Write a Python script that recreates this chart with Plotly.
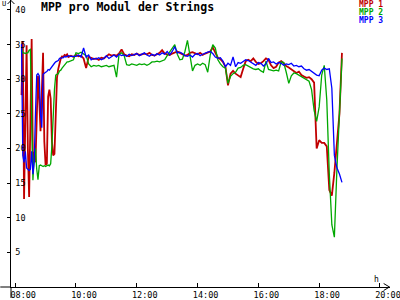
import pandas as pd
import plotly.graph_objects as go

# ---- data -------------------------------------------------------------
# sampling grid: 2.5-min samples in the morning, then 5-min samples
times_early = pd.date_range("2024-01-01 08:12:30", "2024-01-01 09:45:00", freq="150s")
times_late = pd.date_range("2024-01-01 09:50:00", "2024-01-01 18:45:00", freq="5min")

mpp1_early = [27.7, 35.5, 12.7, 22.0, 34.9, 20.0, 13.0, 23.8, 35.8, 17.5,
              19.5, 18.0, 24.0, 30.5, 27.0, 22.5, 28.0, 33.8, 21.0, 17.6,
              17.8, 27.5, 28.5, 27.2, 21.0, 19.0, 19.2, 25.0, 30.2, 31.5,
              32.5, 33.0, 33.3, 33.2, 33.5, 33.4, 33.6, 33.2]
mpp1_late = [33.4, 33.2, 33.5, 33.3, 33.4, 33.0, 31.6, 33.2, 33.1, 32.9,
             33.0, 32.8, 33.1, 33.0, 33.3, 33.6, 33.4, 33.5, 33.4, 33.7,
             34.3, 33.6, 33.4, 33.3, 33.6, 33.5, 33.7, 33.5, 33.6, 33.7,
             33.6, 33.8, 33.5, 33.4, 33.6, 33.8, 34.2, 33.7, 33.6, 33.5,
             33.7, 33.9, 34.0, 33.8, 33.6, 33.4, 33.5, 33.8, 33.9, 33.7,
             33.6, 33.8, 33.5, 33.7, 33.8, 34.0, 34.6, 33.8, 33.1, 32.9,
             32.5, 31.8, 29.1, 30.8, 31.2, 30.8, 30.5, 30.3, 31.5, 32.6,
             32.8, 32.6, 33.0, 32.5, 32.2, 32.3, 32.6, 33.0, 32.8, 32.0,
             31.6, 31.8, 32.4, 32.6, 32.3, 31.9, 31.7, 31.4, 31.2, 30.9,
             31.1, 30.6, 30.4, 30.2, 30.3, 30.0, 29.5, 20.0, 21.2, 20.8,
             20.8, 20.3, 14.0, 13.2, 16.5, 20.5, 25.0, 33.8]

mpp2_early = [34.5, 33.8, 33.8, 33.7, 33.8, 33.8, 34.2, 34.3, 24.5, 15.4,
              18.8, 20.0, 17.0, 15.5, 17.5, 17.6, 17.5, 17.4, 17.5, 17.4,
              17.5, 17.6, 17.5, 17.8, 20.5, 25.0, 28.5, 30.6, 30.7, 30.8,
              31.2, 31.3, 31.6, 31.8, 32.0, 32.3, 32.5, 32.5]
mpp2_late = [32.6, 32.8, 33.8, 33.7, 33.9, 33.6, 33.4, 32.2, 31.8, 32.0,
             31.9, 32.0, 31.8, 31.9, 32.0, 31.8, 31.9, 32.0, 30.3, 33.6,
             33.8, 33.4, 32.1, 32.0, 32.2, 32.1, 32.0, 32.2, 32.1, 32.2,
             32.0, 32.2, 32.5, 32.5, 32.6, 32.5, 32.6, 32.8, 33.4, 34.0,
             34.6, 35.0, 33.6, 32.8, 32.9, 34.0, 35.6, 33.5, 31.2, 32.0,
             32.2, 32.0, 32.3, 32.1, 31.0, 33.5, 35.0, 34.5, 32.8, 32.2,
             31.8, 31.6, 29.4, 30.4, 30.8, 31.0, 31.6, 31.7, 32.0, 32.1,
             31.9, 31.6, 31.5, 31.4, 31.5, 31.2, 31.0, 32.6, 31.4, 31.3,
             31.2, 31.3, 31.2, 32.5, 32.4, 31.0, 29.4, 30.5, 30.9, 30.8,
             30.6, 30.4, 30.2, 30.0, 29.7, 28.5, 25.5, 23.9, 26.0, 30.6,
             32.0, 27.0, 16.3, 9.0, 7.2, 17.0, 25.8, 33.0]

mpp3_early = [35.1, 19.0, 18.0, 19.6, 17.2, 17.0, 16.8, 17.0, 19.6, 16.3,
              18.0, 25.0, 30.6, 30.8, 30.5, 25.0, 23.0, 30.7, 30.9, 31.0,
              31.1, 31.4, 31.3, 31.6, 31.9, 32.0, 32.3, 32.5, 32.6, 32.7,
              33.0, 33.0, 33.1, 33.1, 33.3, 33.2, 33.3, 33.4]
mpp3_late = [33.3, 33.3, 33.3, 33.5, 33.2, 34.5, 33.2, 33.5, 32.8, 33.0,
             32.9, 33.1, 32.8, 33.0, 33.4, 33.0, 33.3, 33.5, 33.2, 33.6,
             33.4, 33.5, 33.3, 33.6, 33.4, 33.5, 33.7, 33.4, 33.6, 33.8,
             33.5, 33.3, 33.6, 33.4, 33.7, 33.5, 33.8, 33.6, 34.0, 33.5,
             34.0, 34.7, 33.8, 33.9, 33.7, 33.4, 33.3, 33.5, 33.2, 33.6,
             33.7, 33.4, 33.6, 33.8, 33.9, 34.0, 33.7, 33.2, 33.0, 33.1,
             32.6, 31.8, 32.3, 32.0, 33.2, 31.8, 32.4, 32.3, 32.6, 32.8,
             32.7, 32.5, 32.2, 32.0, 32.4, 32.3, 31.9, 32.2, 33.0, 32.4,
             32.5, 32.2, 32.4, 32.3, 32.0, 32.2, 32.1, 32.3, 31.9, 32.0,
             31.8, 31.9, 31.5, 31.3, 31.4, 31.1, 30.9, 30.6, 30.5, 31.3,
             31.6, 31.4, 31.5, 28.7, 19.0, 17.2, 16.3, 15.1]

series_names = ["MPP 1", "MPP 2", "MPP 3"]
series_colors = ["#c00000", "#00a800", "#0000ff"]
series_widths = [1.8, 1.3, 1.3]

y_ticks = [5, 10, 15, 20, 25, 30, 35, 40]
x_tick_labels = ["08:00", "10:00", "12:00", "14:00", "16:00", "18:00", "20:00"]
title_text = "MPP pro Modul der Strings"
y_unit = "U"
x_unit = "h"

# ---- figure -----------------------------------------------------------
times = list(times_early) + list(times_late)
series = [mpp1_early + mpp1_late, mpp2_early + mpp2_late, mpp3_early + mpp3_late]

W, H = 400, 300
ML, MB = 11, 11
PW, PH = W - ML, H - MB


def px(xp):
    return (xp - ML) / PW


def py(yp):
    return (PH - yp) / PH


MONO = "DejaVu Sans Mono"

fig = go.Figure()
for name, vals, col, w in zip(series_names, series, series_colors, series_widths):
    fig.add_trace(go.Scatter(x=times, y=vals, mode="lines", name=name,
                             line=dict(color=col, width=w), showlegend=False))

tickvals_x = [pd.Timestamp("2024-01-01 " + t) for t in x_tick_labels]

fig.update_layout(
    width=W, height=H,
    margin=dict(l=ML, r=0, t=0, b=MB, pad=0),
    paper_bgcolor="white", plot_bgcolor="white",
    font=dict(family=MONO, size=8, color="black"),
    xaxis=dict(
        range=["2024-01-01 07:51:43", "2024-01-01 20:19:48"],
        tickvals=tickvals_x, ticktext=x_tick_labels,
        showgrid=False, zeroline=False,
        showline=True, linecolor="black", linewidth=1,
        ticks="inside", ticklen=4, tickcolor="black",
        tickfont=dict(family=MONO, size=8.5, color="black"),
        ticklabelshift=8, ticklabelstandoff=0,
        ticklabeloverflow="allow",
    ),
    yaxis=dict(
        range=[0, PH / 6.975],
        tickvals=y_ticks, ticktext=[str(v) for v in y_ticks],
        showgrid=False, zeroline=False,
        showline=True, linecolor="black", linewidth=1,
        ticks="outside", ticklen=3, tickcolor="black",
        ticklabelposition="inside", ticklabelstandoff=3,
        ticklabeloverflow="allow",
        tickfont=dict(family=MONO, size=8.5, color="black"),
    ),
)

# axis extensions and arrow heads
fig.add_shape(type="line", xref="paper", yref="paper", x0=px(0), x1=px(11), y0=0, y1=0,
              line=dict(color="black", width=1))
fig.add_shape(type="line", xref="paper", yref="paper", x0=0, x1=0, y0=py(300), y1=0,
              line=dict(color="black", width=1))
fig.add_shape(type="path", xref="paper", yref="paper",
              path=f"M {px(7.5)} {py(4)} L {px(11)} {py(0.5)} L {px(14.5)} {py(4)}",
              line=dict(color="black", width=1))
fig.add_shape(type="path", xref="paper", yref="paper",
              path=f"M {px(393.5)} {py(285.5)} L {px(399.5)} {py(289)} L {px(393.5)} {py(292.5)}",
              line=dict(color="black", width=1))

# title, axis units, legend
fig.add_annotation(text="<b>" + title_text + "</b>", xref="paper", yref="paper",
                   x=px(40), y=py(7.5), xanchor="left", yanchor="middle", showarrow=False,
                   font=dict(family=MONO, size=11.5, color="black"))
fig.add_annotation(text=y_unit, xref="paper", yref="paper", x=px(4), y=py(4),
                   xanchor="center", yanchor="middle", showarrow=False,
                   font=dict(family=MONO, size=7, color="black"))
fig.add_annotation(text=x_unit, xref="paper", yref="paper", x=px(386.5), y=py(281),
                   xanchor="center", yanchor="middle", showarrow=False,
                   font=dict(family=MONO, size=8, color="black"))
for k, (name, col) in enumerate(zip(series_names, series_colors)):
    fig.add_annotation(text="<b>" + name + "</b>", xref="paper", yref="paper",
                       x=px(395), y=py(4.5 + 8 * k),
                       xanchor="right", yanchor="middle", showarrow=False,
                       font=dict(family=MONO, size=8, color=col))

fig.write_html("out.html")
